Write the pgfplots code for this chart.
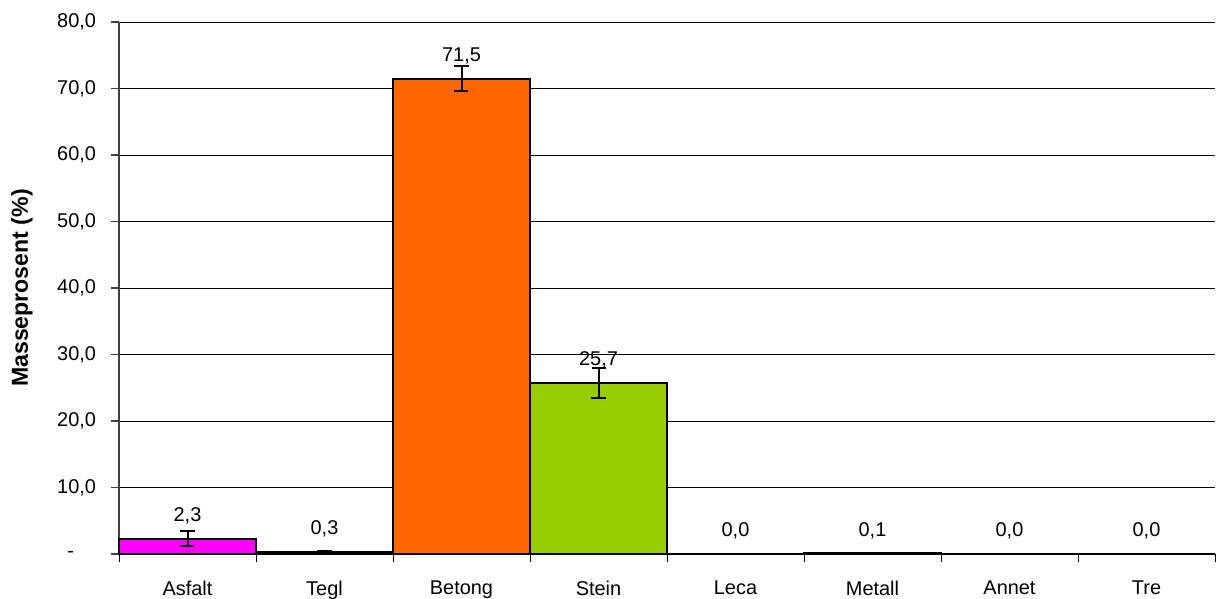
\documentclass[border=0pt]{standalone}
\usepackage{fontspec}
\setmainfont{Liberation Sans}
\usepackage{pgfplots}
\pgfplotsset{compat=1.18}
\definecolor{asf}{HTML}{FF00FF}
\definecolor{teg}{HTML}{993300}
\definecolor{bet}{HTML}{FF6600}
\definecolor{ste}{HTML}{99CC00}
\definecolor{lec}{HTML}{808080}
\definecolor{met}{HTML}{C0C0C0}
\definecolor{ann}{HTML}{FFFFFF}
\definecolor{tre}{HTML}{996633}
\definecolor{axgray}{HTML}{404040}
\begin{document}
\fontsize{10}{12}\selectfont
\begin{tikzpicture}
\useasboundingbox (-59.5bp,-22.5bp) rectangle (549.5bp,277bp);
\begin{axis}[
  scale only axis, width=548bp, height=266bp,
  xmin=-0.5, xmax=7.5, ymin=0, ymax=80,
  ybar, bar width=1, bar shift=0pt,
  axis x line=bottom, axis y line=left, axis line style={-},
  x axis line style={draw=black, line width=1bp},
  y axis line style={draw=axgray, line width=1bp},
  tick align=outside,
  major tick length=4bp, minor tick length=4bp,
  xtick={0,...,7},
  xticklabels={Asfalt,Tegl,Betong,Stein,Leca,Metall,Annet,Tre},
  minor xtick={-0.5,0.5,...,7.5},
  major x tick style={draw=none},
  minor x tick style={draw=black, line width=0.5bp},
  ytick={0,10,...,80},
  yticklabels={{-\hspace*{11bp}},{10,0},{20,0},{30,0},{40,0},{50,0},{60,0},{70,0},{80,0}},
  y tick style={draw=axgray, line width=0.7bp},
  ymajorgrids, grid style={draw=black, line width=0.5bp},
  tick label style={font=\fontsize{10}{12}\selectfont},
  xticklabel style={yshift=-6bp},
  yticklabel style={xshift=-4bp},
  ylabel={Masseprosent (\%)},
  ylabel style={at={(axis description cs:-0.0885,0.5)}, anchor=center, font=\fontsize{11.6}{13}\selectfont\bfseries},
  nodes near coords={\pgfmathprintnumber[fixed,zerofill,precision=1,use comma,assume math mode=true]{\pgfplotspointmeta}},
  point meta=y,
  nodes near coords style={anchor=south, yshift=3.5bp, font=\fontsize{10}{12}\selectfont, text=black},
  every axis plot/.append style={draw=black, line width=1bp},
  error bars/error bar style={line width=1bp, draw=black},
  error bars/error mark options={rotate=90, mark size=3.5bp, line width=1bp, draw=black},
  clip=false,
]
\addplot[fill=asf, error bars/.cd, y dir=both, y explicit] coordinates {(0,2.3) +- (0,1.1)};
\addplot[fill=teg, error bars/.cd, y dir=both, y explicit] coordinates {(1,0.3) +- (0,0.15)};
\addplot[fill=bet, error bars/.cd, y dir=both, y explicit] coordinates {(2,71.5) +- (0,1.85)};
\addplot[fill=ste, error bars/.cd, y dir=both, y explicit] coordinates {(3,25.7) +- (0,2.25)};
\addplot[fill=lec, error bars/.cd, y dir=both, y explicit] coordinates {(4,0.0) +- (0,0.02)};
\addplot[fill=met, error bars/.cd, y dir=both, y explicit] coordinates {(5,0.1) +- (0,0.05)};
\addplot[fill=ann, error bars/.cd, y dir=both, y explicit] coordinates {(6,0.0) +- (0,0.02)};
\addplot[fill=tre, error bars/.cd, y dir=both, y explicit] coordinates {(7,0.0) +- (0,0.02)};
\end{axis}
\end{tikzpicture}
\end{document}
